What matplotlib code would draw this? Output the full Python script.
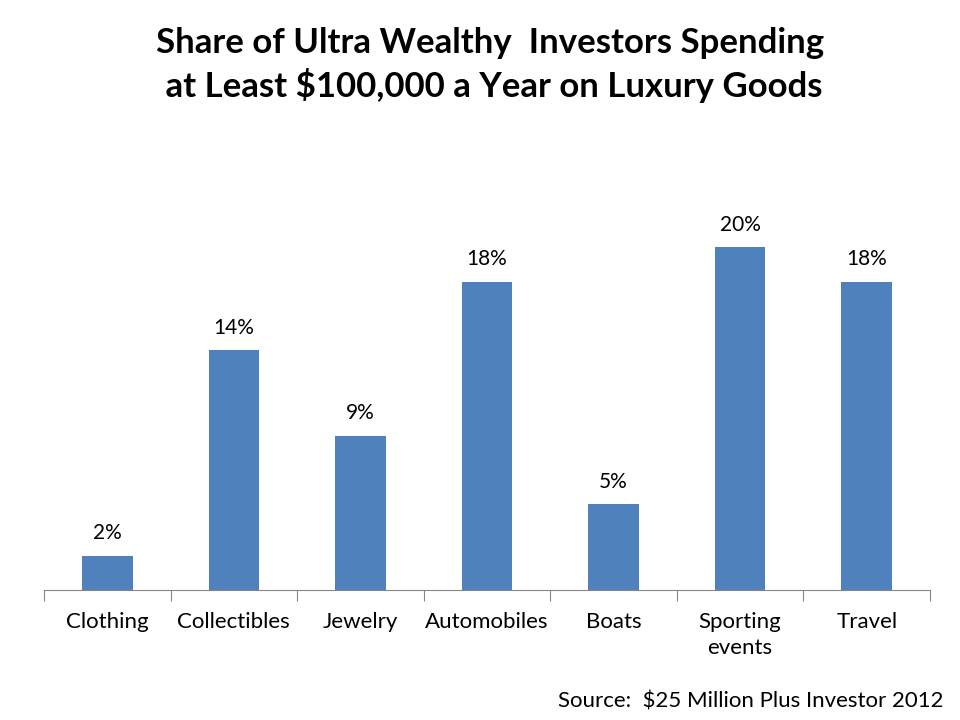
import matplotlib
matplotlib.use("Agg")
import matplotlib.pyplot as plt
import numpy as np

categories = ["Clothing", "Collectibles", "Jewelry", "Automobiles", "Boats", "Sporting\nevents", "Travel"]
values = [2, 14, 9, 18, 5, 20, 18]
value_labels = ["2%", "14%", "9%", "18%", "5%", "20%", "18%"]
title = "Share of Ultra Wealthy  Investors Spending\n at Least $100,000 a Year on Luxury Goods"
source = "Source:  $25 Million Plus Investor 2012"

plt.rcParams['font.family'] = ['Lato', 'DejaVu Sans']

fig = plt.figure(figsize=(9.6, 7.2), dpi=100)
ax = fig.add_axes([44/960, 130/720, 886/960, 377/720])
x = np.arange(len(categories))
ax.bar(x, values, width=0.4, color="#4F81BD")
ax.set_xlim(-0.5, len(categories) - 0.5)
ax.set_ylim(0, 22)
for xi, v, lab in zip(x, values, value_labels):
    ax.annotate(lab, (xi, v), xytext=(0, 9), textcoords="offset points",
                ha="center", va="bottom", fontsize=15)

for s in ["top", "right", "left"]:
    ax.spines[s].set_visible(False)
ax.spines["bottom"].set_color("#868686")
ax.set_yticks([])
ax.set_xticks(np.arange(-0.5, len(categories)), minor=False)
ax.set_xticklabels([])
ax.tick_params(axis="x", which="major", length=8, color="#868686", direction="out")
ax.set_xticks(x, minor=True)
ax.set_xticklabels(categories, minor=True, fontsize=16)
ax.tick_params(axis="x", which="minor", length=0, pad=16)
for t in ax.get_xticklabels(minor=True):
    t.set_linespacing(1.35)
    t.set_va("top")

fig.text(0.51, 0.962, title, ha="center", va="top", fontsize=25, fontweight="bold", linespacing=1.3)
fig.text(0.983, 0.025, source, ha="right", va="center", fontsize=16)

fig.savefig("out.png", dpi=100)
